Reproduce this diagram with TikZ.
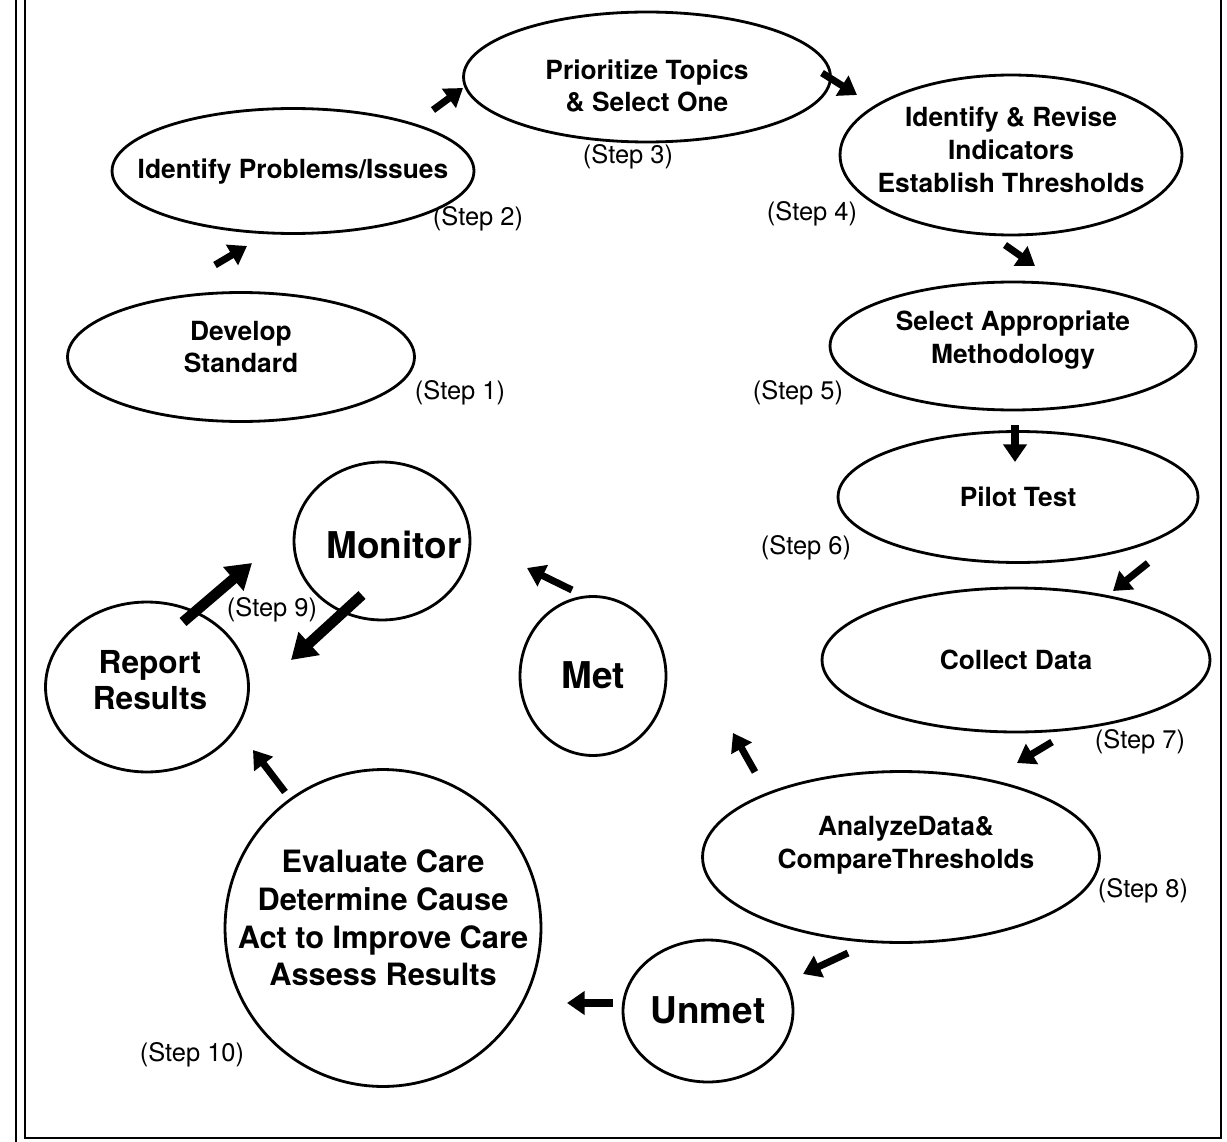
\documentclass[tikz,border=0pt]{standalone}
\usepackage{fontspec}
\setmainfont{TeX Gyre Heros}
\usetikzlibrary{shapes.geometric,arrows.meta}

\tikzset{
  oval/.style={ellipse, draw, line width=1.6pt, inner sep=0pt},
  ovaltext/.style={align=center, inner sep=0pt, font=\bfseries\fontsize{15}{18.7}\selectfont},
  bigtext/.style={align=center, inner sep=0pt, font=\bfseries\fontsize{21}{24}\selectfont},
  steplbl/.style={inner sep=0pt, font=\fontsize{14.5}{17}\selectfont},
  flow/.style={-{Triangle[length=10pt,width=13pt]}, line width=4pt},
  bigflow/.style={-{Triangle[length=14pt,width=17pt]}, line width=6pt},
  frame/.style={line width=1.1pt}
}

\begin{document}
\begin{tikzpicture}[x=0.02cm, y=-0.02cm]
\useasboundingbox (0,0) rectangle (1227,1142);

% page frame
\draw[frame] (16,0) -- (16,1142);
\draw[frame] (25,0) -- (25,1138) -- (1221,1138) -- (1221,0);

% step ovals
\node[oval, minimum width=6.94cm, minimum height=2.58cm] (dev) at (241,357) {};
\node[oval, minimum width=7.24cm, minimum height=2.5cm] (idp) at (293,171) {};
\node[oval, minimum width=7.34cm, minimum height=2.6cm] (pri) at (647,77) {};
\node[oval, minimum width=6.84cm, minimum height=3.2cm] (ind) at (1011,155) {};
\node[oval, minimum width=7.32cm, minimum height=2.56cm] (sam) at (1013,346) {};
\node[oval, minimum width=7.2cm, minimum height=2.62cm] (pil) at (1018,497) {};
\node[oval, minimum width=7.76cm, minimum height=2.88cm] (col) at (1016,660) {};
\node[oval, minimum width=7.94cm, minimum height=3.42cm] (ana) at (901,857) {};
\node[oval, minimum width=3.4cm, minimum height=2.84cm] (unm) at (708,1011) {};
\node[oval, minimum width=6.32cm, minimum height=6.34cm] (eva) at (383,928) {};
\node[oval, minimum width=4.06cm, minimum height=3.4cm] (rep) at (147,687) {};
\node[oval, minimum width=3.52cm, minimum height=3.16cm] (mon) at (382,541) {};
\node[oval, minimum width=2.92cm, minimum height=3.18cm] (met) at (593,676) {};

% texts in the ovals
\node[ovaltext] (dev-t) at (241,347) {Develop\\Standard};
\node[ovaltext] (idp-t) at (293,172) {Identify Problems/Issues};
\node[ovaltext] (pri-t) at (647,86) {Prioritize Topics\\\& Select One};
\node[ovaltext] (ind-t) at (1011,150) {Identify \& Revise\\Indicators\\Establish Thresholds};
\node[ovaltext] (sam-t) at (1013,340) {Select Appropriate\\Methodology};
\node[ovaltext] (pil-t) at (1018,497) {Pilot Test};
\node[ovaltext] (col-t) at (1016,660) {Collect Data};
\node[ovaltext] (ana-t) at (906,845) {AnalyzeData\&\\CompareThresholds};
\node[bigtext] (unm-t) at (708,1010) {Unmet};
\node[ovaltext, font=\bfseries\fontsize{17.5}{21.4}\selectfont] (eva-t) at (383,918) {Evaluate Care\\Determine Cause\\Act to Improve Care\\Assess Results};
\node[ovaltext, font=\bfseries\fontsize{18}{20.5}\selectfont] (rep-t) at (150,680) {Report\\Results};
\node[bigtext] (mon-t) at (394,545) {Monitor};
\node[bigtext] (met-t) at (593,675) {Met};

% step labels
\node[steplbl] (s1) at (460,393) {(Step 1)};
\node[steplbl] (s2) at (478,219) {(Step 2)};
\node[steplbl] (s3) at (628,157) {(Step 3)};
\node[steplbl] (s4) at (812,214) {(Step 4)};
\node[steplbl] (s5) at (798,393) {(Step 5)};
\node[steplbl] (s6) at (806,548) {(Step 6)};
\node[steplbl] (s7) at (1140,742) {(Step 7)};
\node[steplbl] (s8) at (1143,891) {(Step 8)};
\node[steplbl] (s9) at (272,610) {(Step 9)};
\node[steplbl] (s10) at (192,1055) {(Step 10)};

% arrow ends
\coordinate (dev-out) at (215,265);  \coordinate (idp-in) at (247,246);
\coordinate (idp-out) at (433,110);  \coordinate (pri-in) at (463,88);
\coordinate (pri-out) at (822,73);   \coordinate (ind-in) at (857,95);
\coordinate (ind-out) at (1005,245); \coordinate (sam-in) at (1035,266);
\coordinate (sam-out) at (1015,425); \coordinate (pil-in) at (1015,462);
\coordinate (pil-out) at (1148,563); \coordinate (col-in) at (1113,591);
\coordinate (col-out) at (1052,742); \coordinate (ana-in) at (1017,763);
\coordinate (ana-out) at (848,953);  \coordinate (unm-in) at (803,974);
\coordinate (unm-out) at (613,1003); \coordinate (eva-in) at (567,1003);
\coordinate (eva-out) at (285,792);  \coordinate (rep-in) at (253,750);
\coordinate (ana-up) at (755,772);   \coordinate (met-in) at (733,733);
\coordinate (met-out) at (572,590);  \coordinate (mon-in) at (527,568);
\coordinate (rep-out) at (183,622);  \coordinate (mon-in2) at (252,563);
\coordinate (mon-out) at (362,595);  \coordinate (rep-in2) at (291,660);

% arrows
\draw[flow] (dev-out) -- (idp-in);
\draw[flow] (idp-out) -- (pri-in);
\draw[flow] (pri-out) -- (ind-in);
\draw[flow] (ind-out) -- (sam-in);
\draw[flow] (sam-out) -- (pil-in);
\draw[flow] (pil-out) -- (col-in);
\draw[flow] (col-out) -- (ana-in);
\draw[flow] (ana-out) -- (unm-in);
\draw[flow] (unm-out) -- (eva-in);
\draw[flow] (eva-out) -- (rep-in);
\draw[flow] (ana-up) -- (met-in);
\draw[flow] (met-out) -- (mon-in);
\draw[bigflow] (rep-out) -- (mon-in2);
\draw[bigflow] (mon-out) -- (rep-in2);
\end{tikzpicture}
\end{document}
